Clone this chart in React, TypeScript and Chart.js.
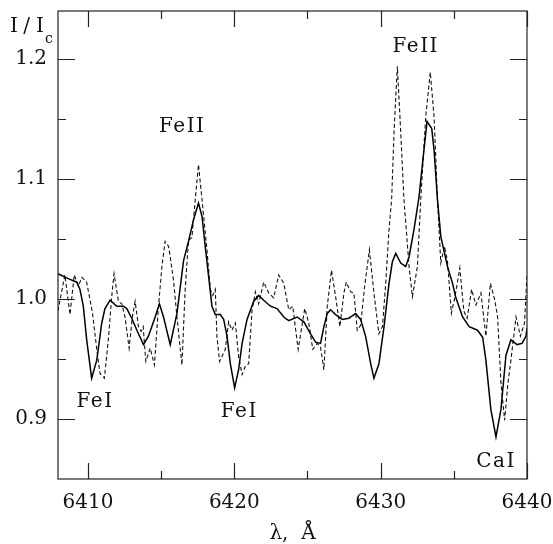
import React, { useEffect, useRef } from "react";
import { Chart, registerables } from "chart.js";

Chart.register(...registerables);

// Solid spectrum (wavelength in Å, relative intensity I/Ic)
const solidWave = [
  6407.95, 6408.65, 6409.23, 6409.45, 6409.68, 6409.91, 6410.25, 6410.6, 6410.94, 6411.16,
  6411.51, 6411.97, 6412.42, 6412.65, 6412.99, 6413.34, 6413.79, 6414.13, 6414.59, 6414.88,
  6415.16, 6415.62, 6416.08, 6416.53, 6416.87, 6417.21, 6417.55, 6417.79, 6418.01, 6418.24,
  6418.47, 6418.7, 6419.04, 6419.27, 6419.5, 6419.73, 6420.02, 6420.29, 6420.53, 6420.87,
  6421.32, 6421.66, 6422.01, 6422.47, 6422.92, 6423.38, 6423.72, 6424.29, 6424.75, 6425.21,
  6425.55, 6425.89, 6426.12, 6426.35, 6426.58, 6426.92, 6427.38, 6427.83, 6428.29, 6428.63,
  6428.97, 6429.32, 6429.54, 6429.88, 6430.23, 6430.57, 6430.8, 6431.03, 6431.37, 6431.71,
  6431.94, 6432.28, 6432.62, 6432.86, 6433.17, 6433.49, 6433.65, 6433.88, 6434.11, 6434.57,
  6434.91, 6435.14, 6435.6, 6436.05, 6436.62, 6436.97, 6437.19, 6437.53, 6437.88, 6438.22,
  6438.56, 6438.9, 6439.32, 6439.66, 6439.93, 6440.0,
];
const solidFlux = [
  1.021, 1.017, 1.014, 1.008, 0.994, 0.966, 0.934, 0.949, 0.98, 0.992,
  0.999, 0.994, 0.994, 0.992, 0.984, 0.974, 0.962, 0.969, 0.985, 0.996,
  0.985, 0.962, 0.988, 1.032, 1.048, 1.066, 1.08, 1.069, 1.044, 1.019,
  0.994, 0.987, 0.987, 0.983, 0.969, 0.946, 0.926, 0.941, 0.963, 0.983,
  0.998, 1.003, 0.999, 0.994, 0.992, 0.985, 0.982, 0.985, 0.981, 0.971,
  0.964, 0.963, 0.977, 0.988, 0.991, 0.987, 0.983, 0.984, 0.988, 0.983,
  0.969, 0.946, 0.934, 0.946, 0.977, 1.013, 1.031, 1.038, 1.03, 1.027,
  1.035, 1.058, 1.085, 1.113, 1.148, 1.142, 1.124, 1.083, 1.052, 1.027,
  1.013, 1.001, 0.985, 0.977, 0.974, 0.968, 0.949, 0.908, 0.885, 0.908,
  0.953, 0.966, 0.962, 0.963, 0.969, 0.976,
];

// Dashed spectrum
const dashedWave = [
  6407.95, 6408.15, 6408.42, 6408.77, 6409.06, 6409.34, 6409.59, 6409.91, 6410.31, 6410.6,
  6410.82, 6411.12, 6411.39, 6411.62, 6411.78, 6412.08, 6412.31, 6412.53, 6412.81, 6413.03,
  6413.22, 6413.45, 6413.63, 6413.77, 6413.95, 6414.25, 6414.54, 6414.82, 6415.05, 6415.27,
  6415.5, 6415.62, 6415.84, 6416.08, 6416.42, 6416.64, 6416.87, 6417.1, 6417.33, 6417.55,
  6417.79, 6418.13, 6418.36, 6418.53, 6418.7, 6418.81, 6418.99, 6419.38, 6419.61, 6419.84,
  6420.07, 6420.29, 6420.53, 6420.75, 6420.98, 6421.21, 6421.44, 6421.66, 6422.01, 6422.35,
  6422.69, 6423.03, 6423.38, 6423.72, 6423.99, 6424.36, 6424.81, 6425.09, 6425.36, 6425.66,
  6425.89, 6426.12, 6426.35, 6426.64, 6426.92, 6427.21, 6427.49, 6427.65, 6427.95, 6428.17,
  6428.4, 6428.63, 6428.9, 6429.23, 6429.54, 6429.88, 6430.12, 6430.34, 6430.57, 6430.75,
  6430.92, 6431.14, 6431.33, 6431.59, 6431.78, 6431.94, 6432.17, 6432.51, 6432.74, 6433.08,
  6433.39, 6433.65, 6433.88, 6434.11, 6434.36, 6434.57, 6434.83, 6435.08, 6435.41, 6435.68,
  6435.91, 6436.22, 6436.51, 6436.85, 6437.19, 6437.5, 6437.8, 6437.99, 6438.22, 6438.47,
  6438.7, 6438.9, 6439.25, 6439.55, 6439.83, 6440.0,
];
const dashedFlux = [
  0.99, 1.003, 1.02, 0.987, 1.02, 1.011, 1.018, 1.014, 0.988, 0.958,
  0.938, 0.934, 0.966, 1.002, 1.021, 0.998, 0.996, 0.985, 0.959, 0.985,
  0.998, 0.977, 0.973, 0.977, 0.948, 0.959, 0.945, 0.994, 1.027, 1.048,
  1.044, 1.035, 1.016, 0.985, 0.945, 1.008, 1.049, 1.051, 1.083, 1.112,
  1.083, 1.041, 1.008, 1.003, 1.008, 0.969, 0.948, 0.958, 0.981, 0.974,
  0.98, 0.952, 0.937, 0.944, 0.946, 0.991, 1.006, 0.996, 1.014, 1.005,
  1.001, 1.02, 1.013, 0.991, 0.994, 0.958, 0.992, 0.98, 0.958, 0.963,
  0.96, 0.941, 0.994, 1.024, 1.002, 0.977, 1.005, 1.014, 1.006, 1.005,
  0.974, 0.978, 1.01, 1.041, 1.005, 0.971, 0.977, 1.012, 1.058, 1.083,
  1.141, 1.194, 1.149, 1.083, 1.053, 1.027, 1.002, 1.027, 1.083, 1.152,
  1.189, 1.152, 1.083, 1.03, 1.044, 1.031, 0.988, 1.002, 1.026, 0.99,
  0.984, 1.008, 0.995, 1.005, 0.969, 1.013, 0.999, 0.985, 0.93, 0.899,
  0.93, 0.949, 0.985, 0.969, 0.98, 1.02,
];

// Axis ticks
const xTickLabels = [6410, 6420, 6430, 6440];
const xMinorTicks = [6415, 6425, 6435];
const yTickLabels = [0.9, 1.0, 1.1, 1.2];
const yMinorTicks = [0.95, 1.05, 1.15];

// Line identifications (text, wavelength, intensity of text baseline)
const lineLabelText = ["FeII", "FeII", "FeI", "FeI", "CaI"];
const lineLabelWave = [6416.44, 6432.4, 6410.48, 6420.34, 6437.88];
const lineLabelFlux = [1.139, 1.206, 0.91, 0.9017, 0.86];

const FONT = "'DejaVu Serif', serif";

const framePlugin = {
  id: "frameTicks",
  afterDraw(chart: any) {
    const { ctx, chartArea: a } = chart;
    const xs = chart.scales.x;
    const ys = chart.scales.y;
    ctx.save();
    ctx.strokeStyle = "#222";
    ctx.lineWidth = 1.2;
    ctx.strokeRect(a.left, a.top, a.right - a.left, a.bottom - a.top);
    ctx.beginPath();
    const xt = (v: number, len: number) => {
      const px = Math.round(xs.getPixelForValue(v)) + 0.5;
      ctx.moveTo(px, a.bottom);
      ctx.lineTo(px, a.bottom - len);
      ctx.moveTo(px, a.top);
      ctx.lineTo(px, a.top + len);
    };
    const yt = (v: number, len: number) => {
      const py = Math.round(ys.getPixelForValue(v)) + 0.5;
      ctx.moveTo(a.left, py);
      ctx.lineTo(a.left + len, py);
      ctx.moveTo(a.right, py);
      ctx.lineTo(a.right - len, py);
    };
    xTickLabels.forEach((v) => xt(v, 16));
    xMinorTicks.forEach((v) => xt(v, 8));
    yTickLabels.forEach((v) => yt(v, 17));
    yMinorTicks.forEach((v) => yt(v, 8));
    ctx.stroke();

    // line identifications
    ctx.fillStyle = "#111";
    ctx.font = `20px ${FONT}`;
    ctx.textAlign = "center";
    ctx.textBaseline = "alphabetic";
    (ctx as any).letterSpacing = "1.5px";
    lineLabelText.forEach((t, i) => {
      ctx.fillText(t, xs.getPixelForValue(lineLabelWave[i]), ys.getPixelForValue(lineLabelFlux[i]));
    });
    (ctx as any).letterSpacing = "0px";

    // y axis title I/I_c
    ctx.font = `20px ${FONT}`;
    ctx.fillText("I", 14, 32);
    ctx.fillText("/", 26.5, 32);
    ctx.fillText("I", 40, 32);
    ctx.font = `14px ${FONT}`;
    ctx.textAlign = "left";
    ctx.fillText("c", 45, 43);
    ctx.restore();
  },
};

export default function App() {
  const ref = useRef<HTMLCanvasElement | null>(null);
  useEffect(() => {
    if (!ref.current) return;
    const chart = new Chart(ref.current, {
      type: "line",
      data: {
        datasets: [
          {
            label: "solid",
            data: solidWave.map((w, i) => ({ x: w, y: solidFlux[i] })),
            borderColor: "#000",
            borderWidth: 1.5,
            pointRadius: 0,
            tension: 0,
            fill: false,
          },
          {
            label: "dashed",
            data: dashedWave.map((w, i) => ({ x: w, y: dashedFlux[i] })),
            borderColor: "#111",
            borderWidth: 1.1,
            borderDash: [4, 2.5],
            pointRadius: 0,
            tension: 0,
            fill: false,
          },
        ],
      },
      options: {
        responsive: true,
        maintainAspectRatio: false,
        animation: false,
        layout: { padding: { top: 11, right: 26, left: 0, bottom: 0 } },
        plugins: { legend: { display: false }, tooltip: { enabled: false } },
        scales: {
          x: {
            type: "linear",
            min: 6407.95,
            max: 6440,
            grid: { display: false, drawTicks: false },
            border: { display: false },
            afterBuildTicks: (s: any) => {
              s.ticks = xTickLabels.map((v) => ({ value: v }));
            },
            afterFit: (s: any) => {
              s.height = 65;
              s.paddingLeft = 0;
              s.paddingRight = 0;
            },
            ticks: {
              autoSkip: false,
              maxRotation: 0,
              padding: 12,
              color: "#111",
              font: { family: FONT, size: 20 },
              callback: (v: any) => String(v),
            },
            title: {
              display: true,
              text: "λ,  Å",
              color: "#111",
              font: { family: FONT, size: 20 },
              padding: { top: 0, bottom: -2 },
            },
          },
          y: {
            type: "linear",
            min: 0.85,
            max: 1.24,
            grid: { display: false, drawTicks: false },
            border: { display: false },
            afterBuildTicks: (s: any) => {
              s.ticks = yTickLabels.map((v) => ({ value: v }));
            },
            afterFit: (s: any) => {
              s.width = 58;
              s.paddingTop = 0;
              s.paddingBottom = 0;
            },
            ticks: {
              padding: 11,
              color: "#111",
              font: { family: FONT, size: 20 },
              callback: (v: any) => Number(v).toFixed(1),
            },
          },
        },
      },
      plugins: [framePlugin],
    });
    return () => chart.destroy();
  }, []);
  return (
    <div style={{ position: "absolute", left: 0, top: 0, width: 553, height: 544, background: "#fff" }}>
      <canvas ref={ref} />
    </div>
  );
}
